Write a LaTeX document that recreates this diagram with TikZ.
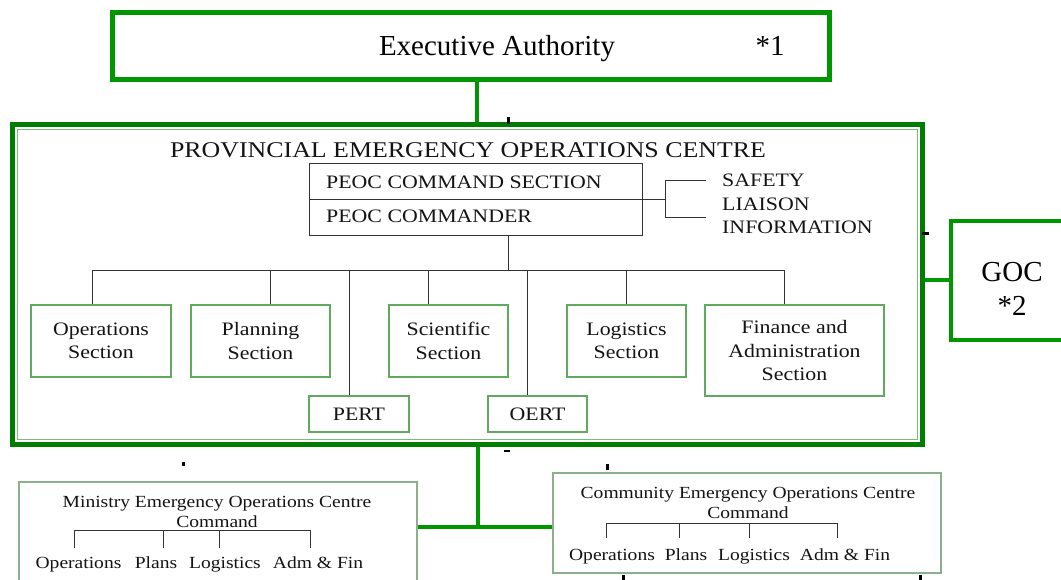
\documentclass[tikz,border=0pt]{standalone}
\usepackage{fontspec}
\setmainfont{Liberation Serif}
\newfontfamily\pal[FakeStretch=1.15]{Liberation Serif}
\definecolor{topgreen}{RGB}{0,150,0}
\definecolor{darkgreen}{RGB}{0,125,0}
\definecolor{lightgreen}{RGB}{120,190,120}
\definecolor{boxgreen}{RGB}{95,170,95}
\definecolor{paleframe}{RGB}{140,175,140}
\definecolor{ink}{RGB}{20,20,20}
\definecolor{rule}{RGB}{50,50,50}
\tikzset{
  frame/.style={draw=topgreen, line width=5pt},
  link/.style={draw=topgreen, line width=4pt},
  txt/.style={inner sep=0pt, text=ink},
  bigtxt/.style={inner sep=0pt, text=black, font=\fontsize{29}{34}\selectfont},
  sectbox/.style={draw=boxgreen, line width=1.5pt, fill=white, align=center,
    inner sep=0pt, text=ink, font=\pal\fontsize{19}{23.5}\selectfont},
  subbox/.style={draw=paleframe, line width=1.5pt, fill=white, inner sep=0pt},
  rulepen/.style={draw=rule, line width=1pt},
  subtxt/.style={inner sep=0pt, text=ink, align=center, font=\pal\fontsize{17}{19.5}\selectfont},
  sublabel/.style={subtxt, anchor=base},
  tickmark/.style={fill=black, inner sep=0pt}
}
\begin{document}
\begin{tikzpicture}[x=1pt,y=-1pt]
\useasboundingbox (0,0) rectangle (1061,579);

% Executive authority
\node[frame, minimum width=717pt, minimum height=67pt, inner sep=0pt] (exec) at (471,46) {};
\node[bigtxt, anchor=base] (exectxt) at (497,55) {Executive Authority};
\node[bigtxt, anchor=base] (execnote) at (770,55) {*1};

% Provincial centre frame
\node[draw=darkgreen, line width=5pt, minimum width=910pt, minimum height=320pt, inner sep=0pt] (peoc) at (467.5,284.5) {};
\node[draw=lightgreen, line width=1.5pt, minimum width=900pt, minimum height=310pt, inner sep=0pt] (peocin) at (467.5,284.5) {};
\draw[link] (exec.south -| 477,0) -- (477,122);

\node[txt, font=\pal\fontsize{22.5}{26}\selectfont] (title) at (468,150) {PROVINCIAL EMERGENCY OPERATIONS CENTRE};

% Command section
\node[rulepen, minimum width=333pt, minimum height=72pt, inner sep=0pt] (cmd) at (475.5,199) {};
\node[txt, anchor=west, font=\pal\fontsize{19}{23}\selectfont] (cmdsec) at (326,182) {PEOC COMMAND SECTION};
\node[txt, anchor=west, font=\pal\fontsize{19}{23}\selectfont] (cmdr) at (326,216) {PEOC COMMANDER};
\coordinate (brk) at (665,199);
\draw[rulepen] (cmd.west) -- (brk);
\draw[rulepen] (706,180) -- (665,180) -- (665,217) -- (706,217);
\node[txt, anchor=west, align=left, font=\pal\fontsize{19}{23.5}\selectfont] (staff) at (722,204) {SAFETY\\LIAISON\\INFORMATION};

% Sections
\node[sectbox, minimum width=140pt, minimum height=72pt] (ops) at (101,341) {Operations\\Section};
\node[sectbox, minimum width=139pt, minimum height=72pt] (plan) at (260.5,341) {Planning\\Section};
\node[sectbox, minimum width=119pt, minimum height=72pt] (sci) at (448.5,341) {Scientific\\Section};
\node[sectbox, minimum width=119pt, minimum height=72pt] (logi) at (626.5,341) {Logistics\\Section};
\node[sectbox, minimum width=179pt, minimum height=91pt] (fin) at (794.5,350.5) {Finance and\\Administration\\Section};
\node[sectbox, minimum width=100pt, minimum height=36pt] (pert) at (359,414) {PERT};
\node[sectbox, minimum width=99pt, minimum height=36pt] (oert) at (537.5,414) {OERT};

% Distribution bus
\coordinate (bus) at (508,270);
\coordinate (b1) at (92,270);
\coordinate (b2) at (270,270);
\coordinate (b3) at (349,270);
\coordinate (b4) at (428,270);
\coordinate (b5) at (527,270);
\coordinate (b6) at (626,270);
\coordinate (b7) at (784,270);
\draw[rulepen] (cmd.south -| bus) -- (bus);
\draw[rulepen] (b1) -- (b7);
\draw[rulepen] (b1) -- (b1 |- ops.north);
\draw[rulepen] (b2) -- (b2 |- plan.north);
\draw[rulepen] (b3) -- (b3 |- pert.north);
\draw[rulepen] (b4) -- (b4 |- sci.north);
\draw[rulepen] (b5) -- (b5 |- oert.north);
\draw[rulepen] (b6) -- (b6 |- logi.north);
\draw[rulepen] (b7) -- (b7 |- fin.north);

% GOC
\node[draw=topgreen, line width=4pt, minimum width=114pt, minimum height=119pt, inner sep=0pt] (goc) at (1008,280.5) {};
\node[bigtxt, align=center, font=\fontsize{29}{34}\selectfont] (goctxt) at (1012,289) {GOC\\*2};
\draw[link] (peoc.east |- 0,280) -- (goc.west |- 0,280);

% Ministry centre
\node[subbox, minimum width=398pt, minimum height=110pt] (meoc) at (218,537) {};
\node[subtxt] (meoctxt) at (217,512) {Ministry Emergency Operations Centre\\Command};
\coordinate (m1) at (74,530);
\coordinate (m2) at (163,530);
\coordinate (m3) at (219,530);
\coordinate (m4) at (310,530);
\draw[rulepen, line width=0.9pt] (m1) -- (m4);
\foreach \p in {m1,m2,m3,m4} \draw[rulepen, line width=0.9pt] (\p) -- ++(0,18);
\node[sublabel] (mops) at (78.5,568) {Operations};
\node[sublabel] (mpla) at (156,568) {Plans};
\node[sublabel] (mlog) at (225,568) {Logistics};
\node[sublabel] (madm) at (318,568) {Adm \& Fin};

% Community centre
\node[subbox, minimum width=388pt, minimum height=100pt] (ceoc) at (747,523) {};
\node[subtxt] (ceoctxt) at (748,503) {Community Emergency Operations Centre\\Command};
\coordinate (c1) at (606,523);
\coordinate (c2) at (679,523);
\coordinate (c3) at (749,523);
\coordinate (c4) at (837,523);
\draw[rulepen, line width=0.9pt] (c1) -- (c4);
\foreach \p in {c1,c2,c3,c4} \draw[rulepen, line width=0.9pt] (\p) -- ++(0,15);
\node[sublabel] (cops) at (612,560) {Operations};
\node[sublabel] (cpla) at (686,560) {Plans};
\node[sublabel] (clog) at (754,560) {Logistics};
\node[sublabel] (cadm) at (845,560) {Adm \& Fin};

% Links to ministry and community centres
\coordinate (split) at (478,527);
\draw[link] (peoc.south -| split) -- (split);
\draw[link] (meoc.east |- split) -- (ceoc.west |- split);

% Small black ticks
\node[tickmark, minimum width=3pt, minimum height=7pt] (t1) at (508,120) {};
\node[tickmark, minimum width=7pt, minimum height=3pt] (t2) at (925,233) {};
\node[tickmark, minimum width=3pt, minimum height=4pt] (t3) at (183,464) {};
\node[tickmark, minimum width=3pt, minimum height=6pt] (t4) at (607,467) {};
\node[tickmark, minimum width=3pt, minimum height=5pt] (t5) at (623,577) {};
\node[tickmark, minimum width=3pt, minimum height=5pt] (t6) at (920,577) {};
\node[tickmark, minimum width=6pt, minimum height=2pt] (t7) at (507,451) {};
\end{tikzpicture}
\end{document}
